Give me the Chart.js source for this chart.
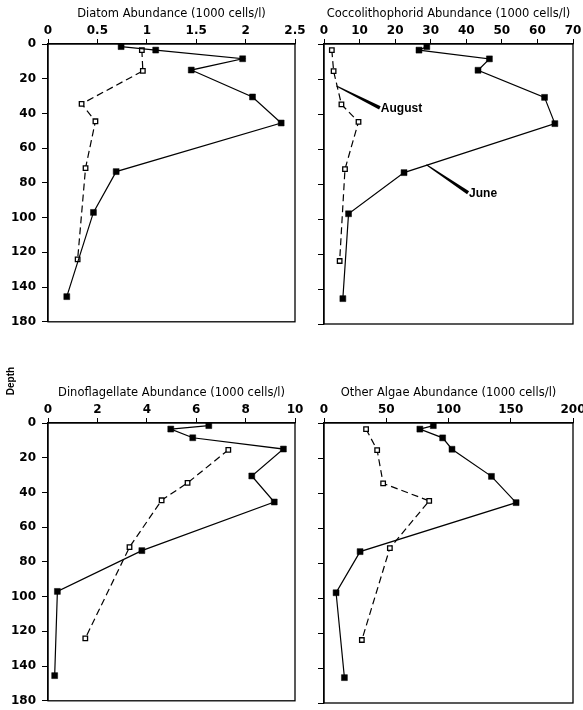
<!DOCTYPE html>
<html><head><meta charset="utf-8">
<script src="https://cdn.jsdelivr.net/npm/chart.js@4"></script>
<style>
body{margin:0;background:#fff;width:583px;height:710px;position:relative;overflow:hidden}
canvas{position:absolute}
#depth{position:absolute;left:-8px;top:374px;width:40px;height:14px;line-height:14px;text-align:center;
  transform:rotate(-90deg);font:bold 10px "Liberation Sans",Arial,sans-serif;color:#000}
</style></head><body>
<canvas id="c1" width="312" height="335" style="left:0;top:0"></canvas>
<canvas id="c2" width="300" height="335" style="left:290px;top:0"></canvas>
<canvas id="c3" width="312" height="335" style="left:0;top:379px"></canvas>
<canvas id="c4" width="300" height="335" style="left:290px;top:379px"></canvas>
<div id="depth">Depth</div>
<script>
// ---- data ----
const depthTickLabels = ['0','20','40','60','80','100','120','140','180'];
const juneDepths   = [1.5, 3.5, 8.5, 15, 30.5, 45.5, 73.5, 97, 145.5];
const augustDepths = [3.5, 15.5, 34.5, 44.5, 71.5, 124];
const dinoAugustDepths = [15.5, 34.5, 44.5, 71.5, 124];

const diatomJune   = [0.74, 1.09, 1.97, 1.45, 2.07, 2.36, 0.69, 0.46, 0.19];
const diatomAugust = [0.95, 0.96, 0.34, 0.48, 0.38, 0.30];
const coccoJune    = [28.9, 26.7, 46.5, 43.3, 62.0, 64.9, 22.5, 6.9, 5.3];
const coccoAugust  = [2.2, 2.7, 4.9, 9.7, 5.9, 4.4];
const dinoJune     = [6.51, 4.97, 5.86, 9.53, 8.25, 9.16, 3.8, 0.38, 0.27];
const dinoAugust   = [7.3, 5.65, 4.6, 3.3, 1.51];
const algaeJune    = [87.8, 77, 95.3, 102.8, 134.5, 154.3, 29, 9.7, 16.4];
const algaeAugust  = [33.8, 42.7, 47.5, 84.5, 52.9, 30.4];

const annotationLabels = ['August', 'June'];
const annotationFrom = [[3.5, 24], [28.8, 69]];
const annotationTo   = [[15.7, 36.5], [40.5, 85]];

// ---- helpers ----
const pts = (xs, ds) => xs.map((v, i) => ({x: v, y: ds[i]}));
const BLACK = '#000';
const tickFont = {family: '"DejaVu Sans", sans-serif', size: 12, weight: 'bold'};
const titleFont = {family: '"DejaVu Sans", sans-serif', size: 11.5, weight: 'normal'};

const framePlugin = {
  id: 'frame',
  afterDraw(chart) {
    const {ctx, chartArea: a} = chart;
    ctx.save();
    ctx.strokeStyle = BLACK; ctx.lineWidth = 1.3;
    ctx.strokeRect(a.left, a.top, a.right - a.left, a.bottom - a.top);
    ctx.restore();
  }
};

const annotationPlugin = {
  id: 'notes',
  afterDatasetsDraw(chart, args, opts) {
    if (!opts.enabled) return;
    const {ctx, scales: {x, y}} = chart;
    ctx.save();
    annotationLabels.forEach((txt, i) => {
      const x0 = x.getPixelForValue(annotationFrom[i][0]), y0 = y.getPixelForValue(annotationFrom[i][1]);
      const x1 = x.getPixelForValue(annotationTo[i][0]), y1 = y.getPixelForValue(annotationTo[i][1]);
      const dx = x1 - x0, dy = y1 - y0, L = Math.hypot(dx, dy);
      const nx = -dy / L, ny = dx / L;
      const w0 = 0.5, w1 = 1.8;
      ctx.beginPath();
      ctx.moveTo(x0 + nx * w0, y0 + ny * w0);
      ctx.lineTo(x1 + nx * w1, y1 + ny * w1);
      ctx.lineTo(x1 - nx * w1, y1 - ny * w1);
      ctx.lineTo(x0 - nx * w0, y0 - ny * w0);
      ctx.closePath();
      ctx.fillStyle = BLACK; ctx.fill();
      ctx.font = 'bold 12px "Liberation Sans Narrow", "Liberation Sans", sans-serif';
      ctx.textAlign = 'left'; ctx.textBaseline = 'middle';
      ctx.fillText(txt, x1 + 1, y1 + 1);
    });
    ctx.restore();
  }
};

function makeChart(id, o) {
  new Chart(document.getElementById(id), {
    type: 'scatter',
    data: {
      datasets: [
        {
          data: pts(o.june, juneDepths), showLine: true, borderColor: BLACK, borderWidth: 1.2,
          pointStyle: 'rect', pointRadius: 4.2, pointBackgroundColor: BLACK, pointBorderColor: BLACK,
          pointBorderWidth: 0.5, clip: false, tension: 0
        },
        {
          data: pts(o.aug, o.augDepths), showLine: true, borderColor: BLACK, borderWidth: 1.2, borderDash: [7, 4],
          pointStyle: 'rect', pointRadius: 3.2, pointBackgroundColor: '#fff', pointBorderColor: BLACK,
          pointBorderWidth: 1.3, clip: false, tension: 0
        }
      ]
    },
    options: {
      responsive: false, animation: false, devicePixelRatio: 1,
      layout: {padding: o.padding},
      plugins: {legend: {display: false}, tooltip: {enabled: false}, notes: {enabled: !!o.notes}},
      scales: {
        x: {
          type: 'linear', position: 'top', min: o.xmin, max: o.xmax,
          ticks: {stepSize: o.step, color: BLACK, font: tickFont, padding: 1, maxRotation: 0,
                  callback: v => String(+Number(v).toFixed(2))},
          grid: {drawOnChartArea: false, drawTicks: true, tickLength: 5, color: BLACK, lineWidth: 1},
          border: {color: BLACK, width: 1.3},
          title: {display: true, text: o.title, color: BLACK, font: titleFont, padding: {top: 7, bottom: 0}},
          afterFit: s => { s.height = 44; }
        },
        y: {
          type: 'linear', reverse: true, min: 0, max: 160,
          ticks: {stepSize: 20, display: o.yLabels, color: BLACK, font: tickFont, padding: 6,
                  callback: v => depthTickLabels[Math.round(v / 20)]},
          grid: {drawOnChartArea: false, drawTicks: true, tickLength: 6, color: BLACK, lineWidth: 1},
          border: {color: BLACK, width: 1.3},
          afterFit: s => { s.width = o.yWidth; }
        }
      }
    },
    plugins: [framePlugin, annotationPlugin]
  });
}

makeChart('c1', {june: diatomJune, aug: diatomAugust, augDepths: augustDepths, xmin: 0, xmax: 2.5, step: 0.5,
  title: 'Diatom Abundance (1000 cells/l)', yLabels: true, yWidth: 48, padding: {left: 0, right: 17, top: 0, bottom: 11}});
makeChart('c2', {june: coccoJune, aug: coccoAugust, augDepths: augustDepths, xmin: 0, xmax: 70, step: 10,
  title: 'Coccolithophorid Abundance (1000 cells/l)', yLabels: false, yWidth: 34, padding: {left: 0, right: 17, top: 0, bottom: 11}, notes: true});
makeChart('c3', {june: dinoJune, aug: dinoAugust, augDepths: dinoAugustDepths, xmin: 0, xmax: 10, step: 2,
  title: 'Dinoflagellate Abundance (1000 cells/l)', yLabels: true, yWidth: 48, padding: {left: 0, right: 17, top: 0, bottom: 11}});
makeChart('c4', {june: algaeJune, aug: algaeAugust, augDepths: augustDepths, xmin: 0, xmax: 200, step: 50,
  title: 'Other Algae Abundance (1000 cells/l)', yLabels: false, yWidth: 34, padding: {left: 0, right: 17, top: 0, bottom: 11}});
</script>
</body></html>
